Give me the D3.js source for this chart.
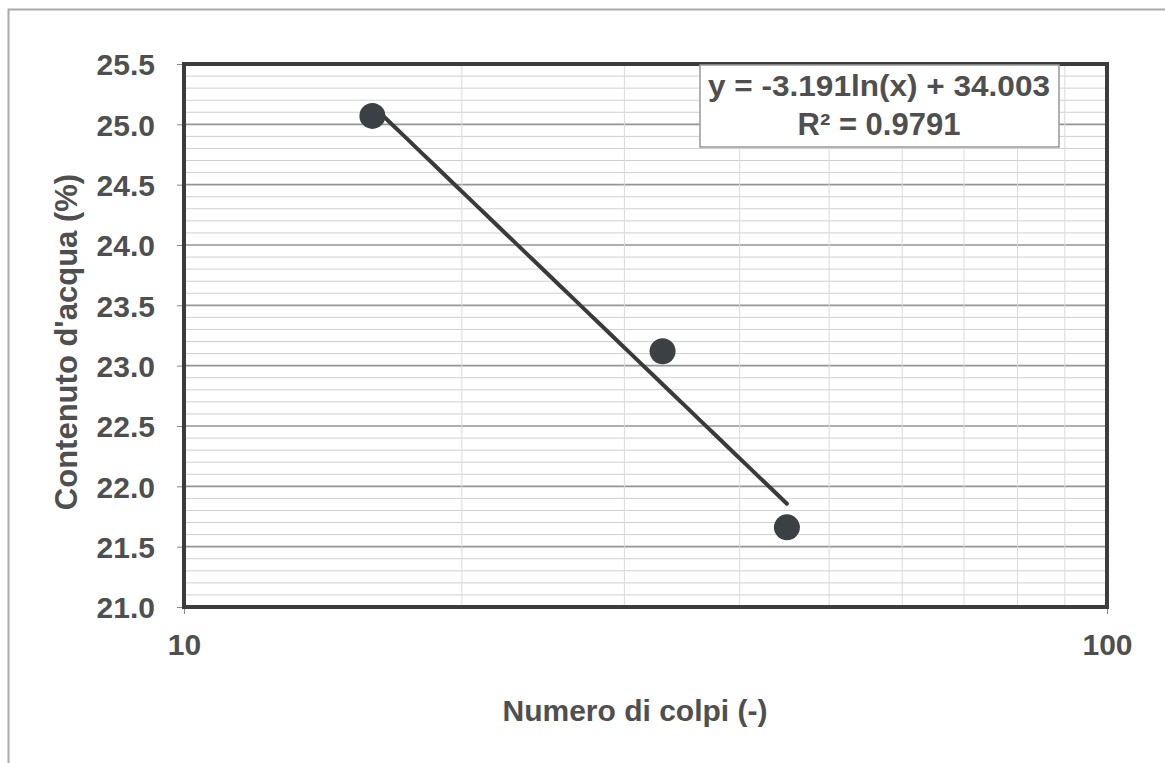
<!DOCTYPE html>
<meta charset="utf-8">
<script src="https://cdn.jsdelivr.net/npm/d3@7"></script>
<style>
body { margin: 0; background: #fff; }
text { font-family: "Liberation Sans", Arial, sans-serif; font-weight: bold; fill: #4f4f4f; }
</style>
<div id="chart"></div>
<script>
// data
var colpi = [16, 33, 45];
var contenuto = [25.07, 23.12, 21.66];
var yTicks = [21.0, 21.5, 22.0, 22.5, 23.0, 23.5, 24.0, 24.5, 25.0, 25.5];
var xTicks = [10, 100];
var trend = {a: -3.191, b: 34.003, r2: 0.9791};

var W = 1165, H = 763;
var margin = {top: 64, left: 184},
    width = 1107 - 184,
    height = 607 - 64;

var svg = d3.select("#chart").append("svg")
    .attr("width", W).attr("height", H);

// outer frame (scanned page border)
svg.append("rect")
    .attr("x", 8.5).attr("y", 9.5)
    .attr("width", W + 20).attr("height", H + 20)
    .attr("fill", "none").attr("stroke", "#aaa").attr("stroke-width", 2);

var g = svg.append("g")
    .attr("transform", "translate(" + margin.left + "," + margin.top + ")");

var x = d3.scaleLog().domain([10, 100]).range([0, width]);
var y = d3.scaleLinear().domain([21, 25.5]).range([height, 0]);

// horizontal grid: minor every 0.1, major every 0.5
var isMajor = function(d) { return Math.abs(d * 2 - Math.round(d * 2)) < 1e-6; };
var minorY = d3.range(211, 255).map(function(d) { return d / 10; });
g.append("g").selectAll("line").data(minorY).enter().append("line")
    .attr("x1", 0).attr("x2", width)
    .attr("y1", function(d) { return y(d); }).attr("y2", function(d) { return y(d); })
    .attr("stroke", function(d) { return isMajor(d) ? "#959595" : "#d0d0d0"; })
    .attr("stroke-width", function(d) { return isMajor(d) ? 1.6 : 1; });

// vertical minor grid at 20..90
g.append("g").selectAll("line").data(d3.range(20, 100, 10)).enter().append("line")
    .attr("x1", function(d) { return x(d); }).attr("x2", function(d) { return x(d); })
    .attr("y1", 0).attr("y2", height)
    .attr("stroke", "#dadada").attr("stroke-width", 1);

// axes
var yAxis = g.append("g")
    .call(d3.axisLeft(y).tickValues(yTicks).tickFormat(d3.format(".1f")).tickSize(7).tickPadding(22));
yAxis.select(".domain").remove();
yAxis.selectAll("line").attr("stroke", "#888");
yAxis.selectAll("text").style("font-size", "30px").attr("dy", "0.36em");

var xAxis = g.append("g")
    .attr("transform", "translate(0," + height + ")")
    .call(d3.axisBottom(x).tickValues(xTicks).tickFormat(d3.format("d")).tickSize(7).tickPadding(20));
xAxis.select(".domain").remove();
xAxis.selectAll("line").attr("stroke", "#888");
xAxis.selectAll("text").style("font-size", "30px");

// plot border
g.append("rect")
    .attr("width", width).attr("height", height)
    .attr("fill", "none").attr("stroke", "#3c3c3c").attr("stroke-width", 4);

// trendline from the regression equation, over the data range
var lx = d3.range(0, 41).map(function(i) {
  return Math.exp(Math.log(colpi[0]) + i / 40 * (Math.log(colpi[2]) - Math.log(colpi[0])));
});
g.append("path")
    .datum(lx)
    .attr("fill", "none").attr("stroke", "#3a3a3a").attr("stroke-width", 4)
    .attr("stroke-linecap", "round")
    .attr("d", d3.line()
      .x(function(d) { return x(d); })
      .y(function(d) { return y(trend.a * Math.log(d) + trend.b); }));

// points
g.append("g").selectAll("circle").data(colpi).enter().append("circle")
    .attr("cx", function(d) { return x(d); })
    .attr("cy", function(d, i) { return y(contenuto[i]); })
    .attr("r", 13)
    .attr("fill", "#3b4045");

// equation box
var box = svg.append("g").attr("transform", "translate(700,65)");
box.append("rect")
    .attr("width", 359).attr("height", 82)
    .attr("fill", "#fff").attr("stroke", "#999").attr("stroke-width", 1.5);
box.append("text")
    .attr("x", 179).attr("y", 31)
    .attr("text-anchor", "middle")
    .attr("textLength", 342).attr("lengthAdjust", "spacingAndGlyphs")
    .style("font-size", "30px")
    .text("y = " + trend.a + "ln(x) + " + trend.b.toFixed(3));
box.append("text")
    .attr("x", 179).attr("y", 70)
    .attr("text-anchor", "middle")
    .style("font-size", "31px")
    .text("R² = " + trend.r2);

// axis titles
svg.append("text")
    .attr("x", 635).attr("y", 721)
    .attr("text-anchor", "middle")
    .style("font-size", "30px")
    .text("Numero di colpi (-)");

svg.append("text")
    .attr("transform", "translate(77,342) rotate(-90)")
    .attr("text-anchor", "middle")
    .style("font-size", "31px")
    .text("Contenuto d'acqua (%)");
</script>
